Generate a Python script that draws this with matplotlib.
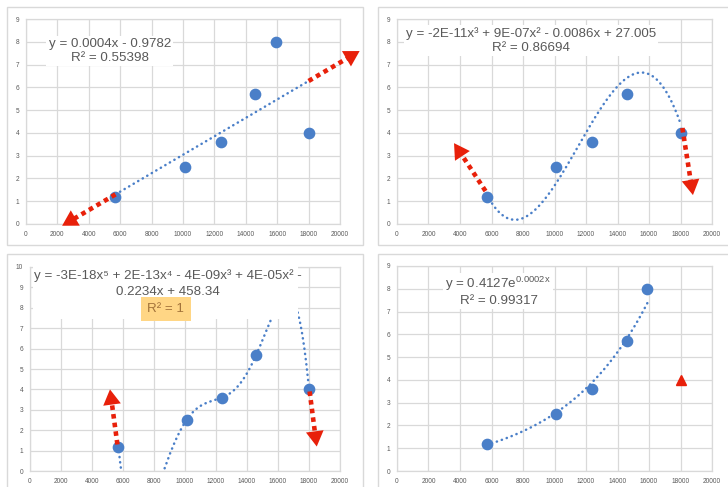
import numpy as np
import matplotlib
matplotlib.use('Agg')
import matplotlib.pyplot as plt
from matplotlib.patches import Rectangle

# datos
x_vals = [5700, 10100, 12400, 14600, 15900, 18000]
y_vals = [1.2, 2.5, 3.6, 5.7, 8.0, 4.0]
x_ticks = list(range(0, 20001, 2000))

# puntas de las flechas rojas dibujadas a mano (x, y)
puntas_cubica = [(3620, 3.55), (18790, 1.27)]
puntas_quinta = [(5160, 4.0), (18500, 1.2)]

eq_lineal = ["y = 0.0004x - 0.9782", "R² = 0.55398"]
eq_cubica = ["y = -2E-11x³ + 9E-07x² - 0.0086x + 27.005", "R² = 0.86694"]
eq_quinta = ["y = -3E-18x⁵ + 2E-13x⁴ - 4E-09x³ + 4E-05x² -", "0.2234x + 458.34", "R² = 1"]
eq_expo = ["y = 0.4127e$^{\\mathregular{0.0002x}}$", "R² = 0.99317"]

azul = '#4a7fc8'
rojo = '#e8200a'
gris = '#595959'
grid_c = '#d9d9d9'

plt.rcParams['font.family'] = ['Liberation Sans', 'DejaVu Sans']
plt.rcParams['mathtext.fontset'] = 'custom'
plt.rcParams['mathtext.rm'] = 'Liberation Sans'

W, H = 728, 487
fig = plt.figure(figsize=(W / 100, H / 100), dpi=100)
fig.patch.set_facecolor('white')

# marcos de cada grafico (en pixeles)
for (l, t, r, b) in [(7, 7, 363, 245), (378, 7, 740, 245), (7, 254, 363, 500), (378, 254, 740, 500)]:
    fig.patches.append(Rectangle((l / W, 1 - b / H), (r - l) / W, (b - t) / H, transform=fig.transFigure,
                                 fill=False, edgecolor=grid_c, lw=1))


def make_ax(l, t, r, b, ymax):
    ax = fig.add_axes([l / W, 1 - b / H, (r - l) / W, (b - t) / H])
    ax.set_xlim(0, 20000)
    ax.set_ylim(0, ymax)
    ax.set_xticks(x_ticks)
    ax.set_yticks(range(0, ymax + 1))
    ax.grid(True, color=grid_c, lw=0.9)
    ax.set_axisbelow(True)
    for s in ax.spines.values():
        s.set_color(grid_c)
        s.set_linewidth(0.9)
    ax.tick_params(length=0, labelsize=4.7, colors=gris, pad=5)
    return ax


def linea_tendencia(ax, xs, ys):
    ax.plot(xs, ys, color=azul, lw=1.8, ls=(0, (0.1, 2.0)), dash_capstyle='round', zorder=2)


def puntos(ax, xs, ys):
    ax.plot(xs, ys, 'o', color=azul, ms=7.4, zorder=3)


def flecha(ax, x0, y0, x1, y1):
    dx, dy = x1 - x0, y1 - y0
    ax.plot([x0, x0 + 0.82 * dx], [y0, y0 + 0.82 * dy], color=rojo, lw=3.3, ls=(0, (1, 0.9)),
            clip_on=False, zorder=4)
    ax.annotate('', xy=(x1, y1), xytext=(x0 + 0.7 * dx, y0 + 0.7 * dy),
                arrowprops=dict(arrowstyle='-|>,head_length=0.55,head_width=0.32', color=rojo, lw=0,
                                mutation_scale=20, shrinkA=0, shrinkB=0),
                annotation_clip=False, zorder=5)


def etiqueta(ax, x, y, txt, size=9.6):
    ax.text(x, y, txt, ha='center', va='center', fontsize=size, color=gris, zorder=6,
            bbox=dict(facecolor='white', edgecolor='none', pad=1.5), clip_on=False)


xs = np.array(x_vals, dtype=float)
ys = np.array(y_vals, dtype=float)
xx = np.linspace(xs.min(), xs.max(), 200)

# 1: lineal, flechas siguiendo la recta
ax1 = make_ax(26, 19, 340, 224, 9)
p1 = np.poly1d(np.polyfit(xs, ys, 1))
linea_tendencia(ax1, xx, p1(xx))
flecha(ax1, xs.min(), p1(xs.min()), 2300, p1(2300))
flecha(ax1, xs.max(), p1(xs.max()), 21250, p1(21250))
puntos(ax1, xs, ys)
etiqueta(ax1, 5330, 7.6, "\n".join(eq_lineal))

# 2: cubica
ax2 = make_ax(397, 19, 712, 224, 9)
p2 = np.poly1d(np.polyfit(xs, ys, 3))
linea_tendencia(ax2, xx, p2(xx))
flecha(ax2, xs.min() - 80, p2(xs.min()) + 0.15, *puntas_cubica[0])
flecha(ax2, xs.max() + 120, p2(xs.max()) - 0.2, *puntas_cubica[1])
puntos(ax2, xs, ys)
etiqueta(ax2, 8510, 8.05, "\n".join(eq_cubica))

# 3: grado 5
ax3 = make_ax(30, 267, 340, 471, 10)
p3 = np.poly1d(np.polyfit(xs, ys, 5))
linea_tendencia(ax3, xx, p3(xx))
flecha(ax3, xs.min() - 60, p3(xs.min()) + 0.1, *puntas_quinta[0])
flecha(ax3, xs.max() + 40, p3(xs.max()) - 0.1, *puntas_quinta[1])
puntos(ax3, xs, ys)
ax3.add_patch(Rectangle((200, 7.45), 17090, 2.6, facecolor='white', edgecolor='none', zorder=5, clip_on=False))
ax3.text(8870, 9.6, eq_quinta[0], ha='center', va='center', fontsize=9.6, color=gris, zorder=6)
ax3.text(8870, 8.77, eq_quinta[1], ha='center', va='center', fontsize=9.6, color=gris, zorder=6)
ax3.text(8770, 7.94, eq_quinta[2], ha='center', va='center', fontsize=9.6, color='#a3733a', zorder=6,
         bbox=dict(facecolor='#ffd685', edgecolor='none', pad=4.5))

# 4: exponencial sin el ultimo punto
ax4 = make_ax(397, 266, 712, 471, 9)
coef = np.polyfit(xs[:-1], np.log(ys[:-1]), 1)
xx4 = np.linspace(xs[0], xs[-2], 200)
linea_tendencia(ax4, xx4, np.exp(coef[1]) * np.exp(coef[0] * xx4))
puntos(ax4, xs[:-1], ys[:-1])
ax4.plot(xs[-1], ys[-1], '^', color=rojo, ms=7, zorder=3)
etiqueta(ax4, 6410, 8.21, eq_expo[0])
etiqueta(ax4, 6480, 7.46, eq_expo[1])

fig.savefig('out.png', dpi=100)
